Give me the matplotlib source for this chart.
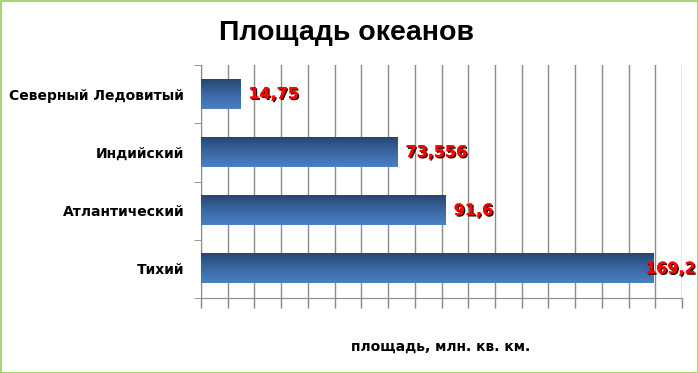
import numpy as np
import matplotlib
matplotlib.use("Agg")
import matplotlib.pyplot as plt
from matplotlib import patheffects as pe
from matplotlib.patches import Rectangle
from matplotlib.colors import LinearSegmentedColormap

categories = ["Северный Ледовитый", "Индийский", "Атлантический", "Тихий"]
values = [14.75, 73.556, 91.6, 169.2]
value_labels = ["14,75", "73,556", "91,6", "169,2"]
title = "Площадь океанов"
xlabel = "площадь, млн. кв. км."

plt.rcParams['font.family'] = ['DejaVu Sans']

fig = plt.figure(figsize=(6.98, 3.73), dpi=100)
ax = fig.add_axes([201/698, 1-298/373, (682-201)/698, (298-65)/373])

ypos = np.arange(len(categories))
bars = ax.barh(ypos, values, height=0.5, color='none', edgecolor='none', zorder=3)

cmap = LinearSegmentedColormap.from_list("g", ["#27466f", "#3a67a3", "#4a80c4"])
grad = np.linspace(0, 1, 100).reshape(-1, 1)
for b in bars:
    x0, y0 = b.get_x(), b.get_y()
    w, h = b.get_width(), b.get_height()
    ax.imshow(grad, cmap=cmap, aspect='auto', extent=(x0, x0 + w, y0 + h, y0),
              origin='upper', zorder=3, interpolation='bilinear')

ax.set_xlim(0, 180)
ax.set_ylim(len(categories) - 0.5, -0.5)
ax.set_xticks(np.arange(0, 181, 10))
ax.set_xticklabels([])
ax.tick_params(axis='x', length=7, color='#888888', width=1, direction='out')
ax.set_yticks(ypos)
ax.set_yticklabels(categories, fontsize=10, fontweight='bold')
ax.tick_params(axis='y', length=0, pad=12)
ax.set_yticks(np.arange(-0.5, len(categories), 1), minor=True)
ax.tick_params(axis='y', which='minor', length=5, color='#888888')
ax.grid(axis='x', color='#8c8c8c', linewidth=1, zorder=0)
ax.set_axisbelow(True)
for s in ['top', 'right']:
    ax.spines[s].set_visible(False)
for s in ['left', 'bottom']:
    ax.spines[s].set_color('#8c8c8c')

for i, (b, lab) in enumerate(zip(bars, value_labels)):
    end = b.get_width()
    off = 8 if end < 160 else -8
    ax.annotate(lab, (end, b.get_y() + b.get_height() / 2), xytext=(off, 0),
                textcoords='offset pixels',
                ha='left', va='center', fontsize=11.5, fontweight='bold',
                color='#ff0000', zorder=5, annotation_clip=False,
                path_effects=[pe.withSimplePatchShadow(offset=(1, -1), shadow_rgbFace='#200000', alpha=1.0),
                              pe.Normal()])

fig.text(0.497, 1 - 33/373, title, ha='center', va='center', fontsize=20.5,
         fontweight='bold', family=['Liberation Sans', 'DejaVu Sans'])
fig.text(441/698, 1 - 347/373, xlabel, ha='center', va='center', fontsize=10, fontweight='bold')

fig.patches.append(Rectangle((0.5/698, 0.5/373), 1 - 1/698, 1 - 1/373, transform=fig.transFigure,
                             fill=False, edgecolor='#92d050', linewidth=1.2))

fig.savefig("out.png", dpi=100)
